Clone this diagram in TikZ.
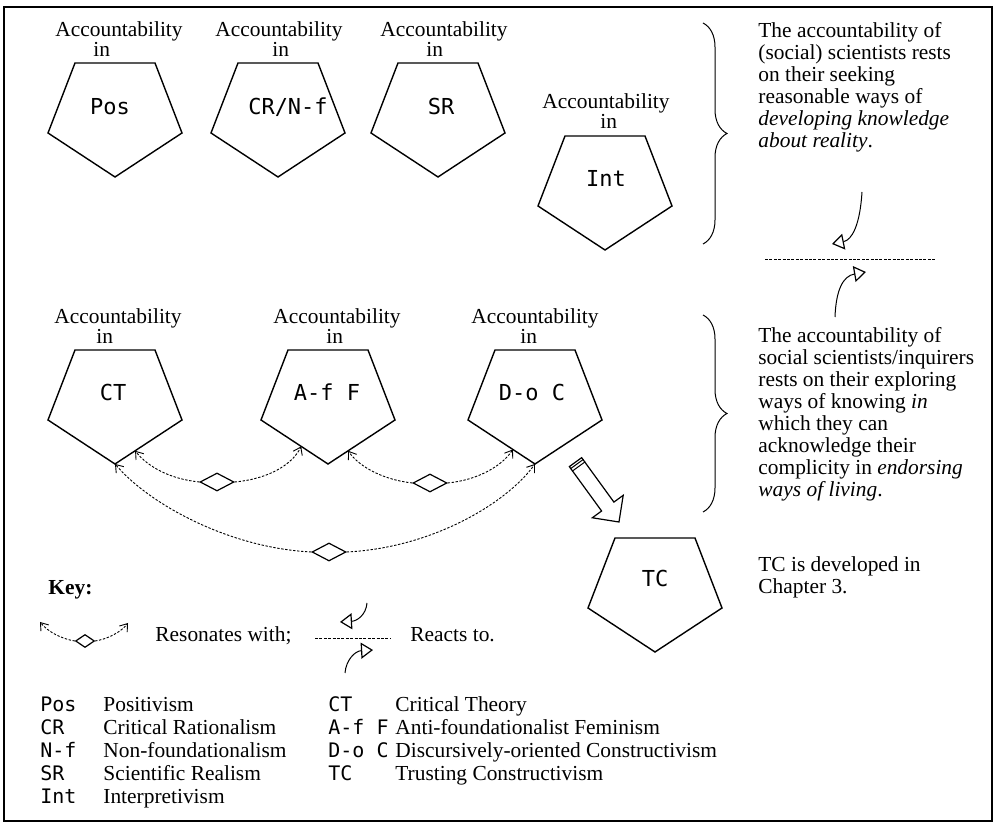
\documentclass[tikz,border=0pt]{standalone}
\usepackage{fontspec}
\setmainfont{Liberation Serif}
\newfontfamily\abbrfont{DejaVu Sans Mono}
\newcommand\tightlines{\lineskiplimit=-20pt\relax}
\usetikzlibrary{arrows.meta,calc,decorations.pathreplacing,shapes.geometric,shapes.arrows}

\tikzset{
  acc/.style={font=\fontsize{10.7}{11}\selectfont, inner sep=0pt, anchor=base},
  acchead/.style={font=\fontsize{10.7}{9.9}\selectfont\tightlines, inner sep=0pt, align=left, anchor=north},
  abbr/.style={font=\abbrfont\fontsize{11}{12}\selectfont, inner sep=0pt},
  legab/.style={font=\abbrfont\fontsize{10}{12}\selectfont, inner sep=0pt, anchor=base west},
  para/.style={font=\fontsize{10.7}{11}\selectfont, inner sep=0pt, align=left, anchor=north west},
  pent/.style={line width=0.7pt, line join=miter},
  dashpat/.style={dash pattern=on 1.5pt off 0.7pt, line width=0.45pt},
  resline/.style={dash pattern=on 1.2pt off 0.8pt, line width=0.45pt, -{Straight Barb[length=3.5pt,width=5pt]}},
  reactline/.style={line width=0.5pt, -{Triangle[open,length=6pt,width=8pt,line width=0.6pt]}},
  resdia/.style={diamond, draw, line width=0.6pt, inner sep=0pt, minimum width=17pt, minimum height=9pt, aspect=2}
}

\begin{document}
\begin{tikzpicture}[x=0.5pt,y=-0.5pt]
      \useasboundingbox (0,0) rectangle (997,822);
      \draw[line width=0.6pt] (4,7) rectangle (992,821);

      % pentagons
      \foreach \n/\cx/\t in
      {pos/115/63,crnf/278/63,sr/438/63,int/605/136,ct/115/350,aff/328/350,doc/535/350,tc/655/538}{
        \coordinate (\n-tl) at (\cx-40,\t);
        \coordinate (\n-tr) at (\cx+40,\t);
        \coordinate (\n-wr) at (\cx+67,\t+70);
        \coordinate (\n-b) at (\cx,\t+114);
        \coordinate (\n-wl) at (\cx-67,\t+70);
        \draw[pent] (\n-tl) -- (\n-tr) -- (\n-wr) -- (\n-b) -- (\n-wl) -- cycle;
      }
      % headings above the pentagons
      \foreach \n/\ax/\ind/\y in
      {pos/119/19/21,crnf/279/28.5/21,sr/444/23/21,int/606/29/93,ct/118/21/308,aff/337/26.5/308,doc/535/24.5/308}{
        \node[acchead] (\n-acc) at (\ax,\y) {Accountability\\\hspace*{\ind pt}in};
      }
      \node[abbr] (pos-lab) at (110,107) {Pos};
      \node[abbr] (crnf-lab) at (288,107) {CR/N-f};
      \node[abbr] (sr-lab) at (441,107) {SR};
      \node[abbr] (int-lab) at (606,178) {Int};
      \node[abbr] (ct-lab) at (113,392) {CT};
      \node[abbr] (aff-lab) at (327,392) {A-f F};
      \node[abbr] (doc-lab) at (532,392) {D-o C};
      \node[abbr] (tc-lab) at (655,578) {TC};

      % braces and texts
      \draw[line width=0.5pt,decorate,decoration={brace,amplitude=12pt}] (703,23) -- (703,244);
      \draw[line width=0.5pt,decorate,decoration={brace,amplitude=12pt}] (703,315) -- (703,512);
      \node[para] (sci-text) at (758,22) {The accountability of\\(social) scientists rests\\on their seeking\\reasonable ways of\\\textit{developing knowledge}\\\textit{about reality}.};
      \node[para] (inq-text) at (758,327) {The accountability of\\social scientists/inquirers\\rests on their exploring\\ways of knowing \textit{in}\\which they can\\acknowledge their\\complicity in \textit{endorsing}\\\textit{ways of living}.};
      \node[para] (tc-text) at (758,556) {TC is developed in\\Chapter 3.};

      % reacts to
      \coordinate (react-l) at (765,259);
      \coordinate (react-r) at (935,259);
      \coordinate (react-a) at (862,192);
      \coordinate (react-at) at (832,244);
      \coordinate (react-b) at (835,317);
      \coordinate (react-bt) at (866,272);
      \draw[dashpat] (react-l) -- (react-r);
      \draw[reactline] (react-a) .. controls (860,225) and (852,240) .. (react-at);
      \draw[reactline] (react-b) .. controls (836,290) and (843,276) .. (react-bt);

      % resonates with
      \node[resdia] (res-ct-aff) at (217,482) {};
      \node[resdia] (res-aff-doc) at (430,483) {};
      \node[resdia] (res-ct-doc) at (329,552) {};
      \coordinate (ct-e1) at ($(ct-wr)!0.7!(ct-b)$);
      \coordinate (aff-e1) at ($(aff-wl)!0.6!(aff-b)$);
      \coordinate (aff-e2) at ($(aff-wr)!0.7!(aff-b)$);
      \coordinate (doc-e1) at ($(doc-wl)!0.67!(doc-b)$);
      \draw[resline] (res-ct-aff.west) .. controls (170,479) and (148,467) .. (ct-e1);
      \draw[resline] (res-ct-aff.east) .. controls (268,479) and (292,465) .. (aff-e1);
      \draw[resline] (res-aff-doc.west) .. controls (385,480) and (360,468) .. (aff-e2);
      \draw[resline] (res-aff-doc.east) .. controls (478,480) and (502,466) .. (doc-e1);
      \draw[resline] (res-ct-doc.west) .. controls (230,548) and (150,505) .. (ct-b);
      \draw[resline] (res-ct-doc.east) .. controls (430,548) and (505,505) .. (doc-b);

      % arrow to TC
      \node[single arrow,draw,line width=0.6pt,inner xsep=0pt,inner ysep=3.5pt,minimum width=0pt,
        single arrow head extend=5.75pt,minimum height=37pt,rotate=-54] (tc-arrow) at (595,489) {};
      \draw[line width=0.5pt] ($(tc-arrow.before tail)!1.5pt!(tc-arrow.after head)$) -- ($(tc-arrow.after tail)!1.5pt!(tc-arrow.before head)$);
      \draw[line width=0.5pt] ($(tc-arrow.before tail)!3pt!(tc-arrow.after head)$) -- ($(tc-arrow.after tail)!3pt!(tc-arrow.before head)$);

      % key
      \node[acc,anchor=base west,font=\bfseries\fontsize{10.7}{13}\selectfont] (key) at (48,595) {Key:};
      \node[resdia,minimum width=9.5pt,minimum height=6.5pt] (key-dia) at (85,641) {};
      \coordinate (key-rl) at (40,622);
      \coordinate (key-rr) at (128,623);
      \draw[resline] (key-dia.west) .. controls (62,639) and (48,632) .. (key-rl);
      \draw[resline] (key-dia.east) .. controls (108,639) and (121,632) .. (key-rr);
      \node[acc,anchor=base west] (key-res) at (155,642) {Resonates with;};
      \coordinate (key-ll) at (315,638);
      \coordinate (key-lr) at (390,638);
      \coordinate (key-a) at (367,603);
      \coordinate (key-at) at (340,622);
      \coordinate (key-b) at (345,673);
      \coordinate (key-bt) at (373,650);
      \draw[dashpat] (key-ll) -- (key-lr);
      \draw[reactline] (key-a) .. controls (366,615) and (357,621) .. (key-at);
      \draw[reactline] (key-b) .. controls (346,660) and (355,651) .. (key-bt);
      \node[acc,anchor=base west] (key-react) at (410,642) {Reacts to.};

      % legend
      \foreach \ab/\desc [count=\i from 0] in
      {Pos/Positivism,CR/Critical Rationalism,N-f/Non-foundationalism,SR/Scientific Realism,Int/Interpretivism}{
        \node[legab] (leg-ab\i) at (40,712+23*\i) {\ab};
        \node[acc,anchor=base west] (leg-de\i) at (103,712+23*\i) {\desc};
      }
      \foreach \ab/\desc [count=\i from 0] in
      {CT/Critical Theory,A-f F/Anti-foundationalist Feminism,D-o C/Discursively-oriented Constructivism,TC/Trusting Constructivism}{
        \node[legab] (leg-rab\i) at (328,712+23*\i) {\ab};
        \node[acc,anchor=base west] (leg-rde\i) at (395,712+23*\i) {\desc};
      }
\end{tikzpicture}
\end{document}
